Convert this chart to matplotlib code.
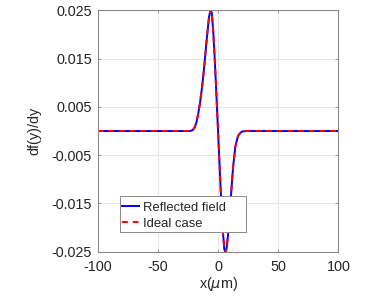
import numpy as np
import matplotlib
matplotlib.use("Agg")
import matplotlib.pyplot as plt
from matplotlib.patches import Rectangle

plt.rcParams['font.family'] = ['Liberation Sans', 'DejaVu Sans']
plt.rcParams['mathtext.fontset'] = 'dejavusans'

# values
x_um = [-100, -23, -21, -19.5, -18, -16.5, -15, -13.5, -12, -10.5, -9, -7.5,
        -6.2, -5.2, -4, -3, -2, -1, 0, 1, 2, 3, 4, 5.2, 6.3, 7.3, 8.7,
        10, 11.3, 12.5, 14.4, 16.6, 18.5, 20, 23, 100]
reflected = [0, 0, 0.0002, 0.0007, 0.0017, 0.0035, 0.0058, 0.0086, 0.0120,
             0.0160, 0.0200, 0.0236, 0.0252, 0.0245, 0.0207, 0.0162, 0.0110,
             0.0055, 0, -0.0055, -0.0110, -0.0162, -0.0207, -0.0245, -0.0252,
             -0.0240, -0.0205, -0.0160, -0.0115, -0.0075, -0.0032, -0.0010,
             -0.0004, -0.0001, 0, 0]
ideal = list(reflected)

xticks = [-100, -50, 0, 50, 100]
xlabels = ['-100', '-50', '0', '50', '100']
yticks = [-0.025, -0.015, -0.005, 0.005, 0.015, 0.025]
ylabels = ['-0.025', '-0.015', '-0.005', '0.005', '0.015', '0.025']

txt = '#262626'
edge = '#8a8a8a'

fig = plt.figure(figsize=(3.89, 2.98), dpi=100)
ax = fig.add_axes([0.251, 0.1554, 0.619, 0.81])

ax.plot(x_um, reflected, color='#0000ff', lw=1.4, label='Reflected field')
ax.plot(x_um, ideal, color='#ff0000', lw=1.4, ls=(0, (3, 2.5)), label='Ideal case')

ax.set_xlim(-100, 100)
ax.set_ylim(-0.025, 0.025)
ax.set_xticks(xticks)
ax.set_xticklabels(xlabels)
ax.set_yticks(yticks)
ax.set_yticklabels(ylabels)

ax.grid(True, color='#e6e6e6', lw=0.8)
ax.set_axisbelow(True)
for s in ax.spines.values():
    s.set_color(edge)
    s.set_linewidth(0.8)
ax.tick_params(direction='in', length=2.5, width=0.6, color=edge,
               top=True, right=True, labelsize=10.4, labelcolor=txt)
ax.tick_params(axis='x', pad=6)
ax.tick_params(axis='y', pad=4)

ax.set_xlabel('x($\\mu$m)', fontsize=10.4, color=txt, labelpad=1)
ax.set_ylabel('df(y)/dy', fontsize=10.4, color=txt, labelpad=7)

# legend box drawn by hand, MATLAB style (extra room on the right)
ax.add_patch(Rectangle((0.0927, 0.082), 0.524, 0.149, transform=ax.transAxes,
                       facecolor='white', edgecolor=edge, lw=0.7, zorder=4))
leg = ax.legend(loc='lower left', bbox_to_anchor=(0.0927, 0.082), fontsize=9.4,
                frameon=False, handlelength=1.3, handletextpad=0.35,
                borderpad=0.15, labelspacing=0.3, borderaxespad=0)
leg.set_zorder(5)
for t in leg.get_texts():
    t.set_color(txt)

fig.savefig('out.png', dpi=100)
